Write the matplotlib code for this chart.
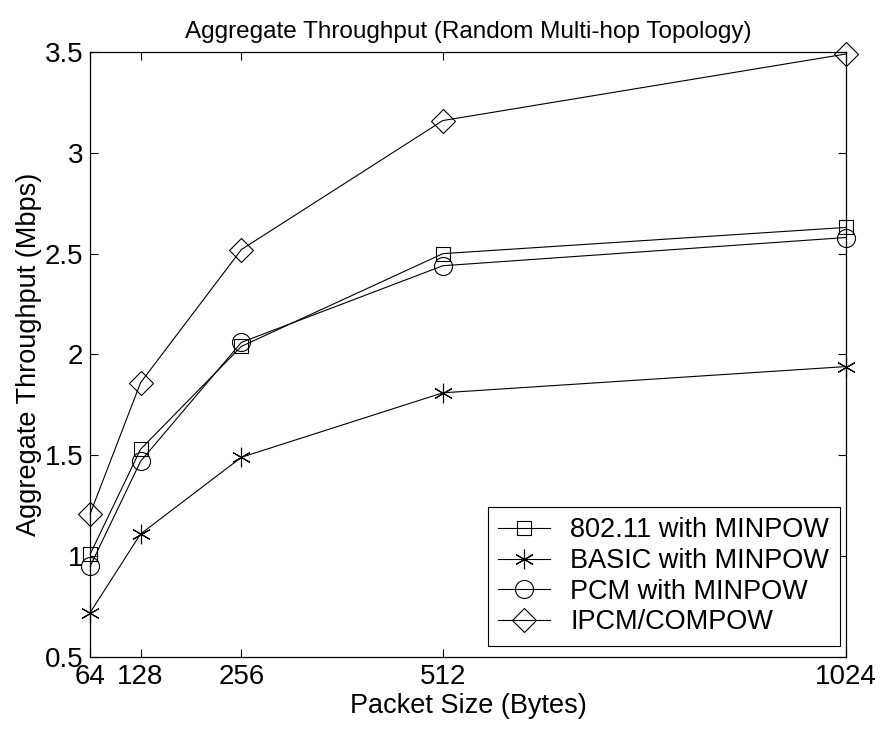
import matplotlib
matplotlib.use("Agg")
import matplotlib.pyplot as plt

# packet sizes (bytes)
packet_sizes = [64, 128, 256, 512, 1024]

# aggregate throughput (Mbps)
ieee80211_minpow = [1.01, 1.53, 2.04, 2.50, 2.63]
basic_minpow = [0.72, 1.11, 1.49, 1.81, 1.94]
pcm_minpow = [0.95, 1.47, 2.06, 2.44, 2.58]
ipcm_compow = [1.21, 1.86, 2.52, 3.16, 3.49]

series_labels = ["802.11 with MINPOW", "BASIC with MINPOW",
                 "PCM with MINPOW", "IPCM/COMPOW"]
y_ticks = [0.5, 1, 1.5, 2, 2.5, 3, 3.5]
y_tick_labels = ["0.5", "1", "1.5", "2", "2.5", "3", "3.5"]

plt.rcParams['font.family'] = ['Liberation Sans', 'DejaVu Sans']

fig = plt.figure(figsize=(8.84, 7.32), dpi=100)
ax = fig.add_axes([0.102, 0.1025, 0.855, 0.8265])

asterisk = (6, 2, 0)
common = dict(color="black", lw=0.8, mew=0.8, clip_on=False)
ax.plot(packet_sizes, ieee80211_minpow, marker="s", ms=10, mfc="none",
        label=series_labels[0], **common)
ax.plot(packet_sizes, basic_minpow, marker=asterisk, ms=14,
        label=series_labels[1], **common)
ax.plot(packet_sizes, pcm_minpow, marker="o", ms=13, mfc="none",
        label=series_labels[2], **common)
ax.plot(packet_sizes, ipcm_compow, marker="D", ms=12, mfc="none",
        label=series_labels[3], **common)

ax.set_xlim(64, 1024)
ax.set_ylim(0.5, 3.5)
ax.set_xticks(packet_sizes)
ax.set_xticklabels([str(p) for p in packet_sizes])
ax.set_yticks(y_ticks)
ax.set_yticklabels(y_tick_labels)
ax.tick_params(direction="in", top=True, right=True, labelsize=20,
               length=6, width=0.8, pad=5)
for s in ax.spines.values():
    s.set_linewidth(0.9)

ax.set_title("Aggregate Throughput (Random Multi-hop Topology)", fontsize=17.5, pad=10)
ax.set_xlabel("Packet Size (Bytes)", fontsize=19.5, labelpad=2)
ax.set_ylabel("Aggregate Throughput (Mbps)", fontsize=19.5, labelpad=2)

leg = ax.legend(loc="lower right", fontsize=19.5, fancybox=False, framealpha=1,
                edgecolor="black", handlelength=1.9, handletextpad=0.75,
                labelspacing=0.17, borderpad=0.4, borderaxespad=0,
                bbox_to_anchor=(0.992, 0.018))
leg.get_frame().set_linewidth(0.8)

fig.savefig("out.png", dpi=100)
